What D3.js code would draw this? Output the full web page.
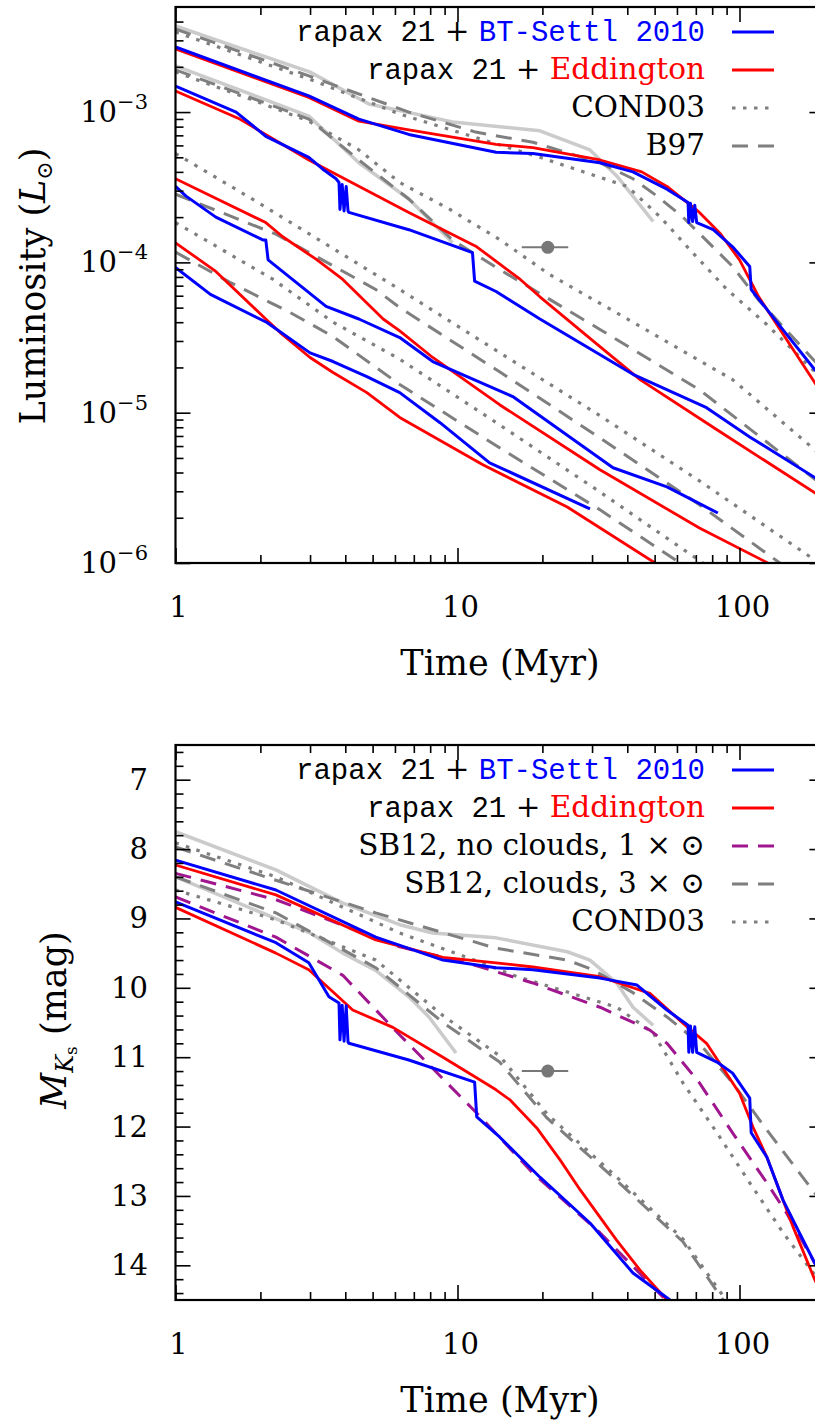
<!DOCTYPE html>
<html>
<head>
<meta charset="utf-8">
<script src="https://cdn.jsdelivr.net/npm/d3@7"></script>
<style>
  body { margin: 0; background: #fff; }
  svg { display: block; }
  text { white-space: pre; }
</style>
</head>
<body>
<div id="graph"></div>
<script>
// ---- top panel: [time (Myr), luminosity (L_sun)] ----
const lumGrayA = [[1,3.74e-3],[2.99,1.85e-3],[4.85,1.13e-3],[9.6,8.6e-4],[19.6,7.5e-4],[29.5,5.6e-4],[36.7,3.76e-4],[49.4,1.87e-4]];
const lumGrayB = [[1,2.03e-3],[2.97,9.4e-4],[4.47,4.6e-4],[6.72,2.64e-4],[9.6,1.35e-4]];

const lumBlueA = [[1,2.71e-3],[2.97,1.28e-3],[4.47,8.98e-4],[6.72,7.1e-4],[13.7,5.4e-4],[18.5,5.3e-4],[32,4.6e-4],[41.9,4.0e-4],[55.3,3.07e-4],[65.7,2.5e-4],[66.1,1.84e-4],[67,2.47e-4],[68.2,1.87e-4],[69.4,2.4e-4],[70.5,1.84e-4],[80.7,1.65e-4],[94.5,1.27e-4],[108.7,9.4e-5],[110,6.6e-5],[142,3.6e-5],[185,1.93e-5],[200,1.63e-5]];
const lumBlueB = [[1,1.49e-3],[1.64,1.0e-3],[2.09,6.9e-4],[2.97,5.0e-4],[3.33,4.17e-4],[3.71,3.6e-4],[3.80,3.4e-4],[3.83,2.25e-4],[3.90,3.3e-4],[3.96,2.2e-4],[4.03,3.2e-4],[4.09,2.2e-4],[4.12,2.15e-4],[6.72,1.65e-4],[11.3,1.16e-4],[11.5,7.5e-5],[13.7,6.4e-5],[19.6,4.2e-5],[41.9,1.8e-5],[76.4,1.08e-5],[108.7,6.9e-6],[185,3.7e-6],[200,3.46e-6]];
const lumBlueC = [[1,3.2e-4],[1.09,2.76e-4],[1.39,2.0e-4],[2.04,1.41e-4],[2.09,1.41e-4],[2.13,1.04e-4],[3.42,5.1e-5],[4.47,4.2e-5],[6.24,3.16e-5],[8.17,2.19e-5],[15.7,1.28e-5],[35.6,4.3e-6],[55.3,3.21e-6],[83.8,2.15e-6]];
const lumBlueD = [[1,9.26e-5],[1.33,6.12e-5],[2.11,3.98e-5],[3.0,2.5e-5],[3.62,2.19e-5],[4.77,1.74e-5],[6.24,1.36e-5],[8.67,8.58e-6],[13.0,4.64e-6],[29.5,2.29e-6]];

const lumRedA = [[1,2.63e-3],[2.97,1.25e-3],[4.47,8.7e-4],[6.72,7.6e-4],[13.7,6.1e-4],[18.5,5.8e-4],[32,4.8e-4],[45,4.0e-4],[55.3,3.2e-4],[72.1,2.15e-4],[85.1,1.57e-4],[100,1.04e-4],[117,5.9e-5],[185,1.58e-5],[200,1.28e-5]];
const lumRedB = [[1,1.38e-3],[1.69,8.98e-4],[2.97,4.8e-4],[6.72,2.15e-4],[11.7,1.27e-4],[16.7,7.7e-5],[19.6,5.9e-5],[32,2.75e-5],[44.4,1.66e-5],[83.2,7.7e-6],[185,2.93e-6],[200,2.67e-6]];
const lumRedC = [[1,3.6e-4],[2.09,1.84e-4],[2.4,1.48e-4],[3.15,1.05e-4],[3.92,7.7e-5],[5.45,4.2e-5],[6.24,3.5e-5],[8.17,2.33e-5],[14.1,1.13e-5],[32,4.17e-6],[72.1,1.71e-6],[126,1.0e-6]];
const lumRedD = [[1,1.35e-4],[1.39,8.7e-5],[2.09,4.2e-5],[2.35,3.41e-5],[3.0,2.33e-5],[3.62,1.85e-5],[4.77,1.36e-5],[6.24,9.3e-6],[12.3,4.5e-6],[24.5,2.36e-6],[50.2,1.0e-6]];

const lumCondA = [[1,3.41e-3],[2.97,1.66e-3],[6.24,9.7e-4],[19.6,5.0e-4],[40,3.2e-4],[52.4,2.0e-4],[68.2,1.16e-4],[90.3,6.6e-5],[125,3.86e-5],[185,1.87e-5],[200,1.61e-5]];
const lumCondB = [[1,1.85e-3],[1.84,1.22e-3],[2.97,8.7e-4],[4.47,5.6e-4],[6.24,3.4e-4],[9.4,2.25e-4],[14.1,1.42e-4],[21.2,8.3e-5],[41.9,4.0e-5],[94.5,1.66e-5],[185,5.66e-6],[200,5.0e-6]];
const lumCondC = [[1,5.3e-4],[1.84,2.69e-4],[2.76,1.69e-4],[6.24,6.6e-5],[14.1,2.51e-5],[32,9.55e-6],[72.1,3.52e-6],[178,1.1e-6],[200,9.5e-7]];
const lumCondD = [[1,1.84e-4],[2.22,7.7e-5],[3.62,4.0e-5],[6.24,2.27e-5],[14.1,8.3e-6],[32,2.97e-6],[74.2,1.0e-6]];

const lumB97A = [[1,3.57e-3],[2.97,1.74e-3],[6.72,1.0e-3],[11.6,7.36e-4],[18.5,6.3e-4],[32,4.6e-4],[41.9,3.6e-4],[51,2.76e-4],[63,2.0e-4],[94.5,9.4e-5],[117,5.6e-5],[185,2.2e-5],[200,1.87e-5]];
const lumB97B = [[1,1.91e-3],[2.97,8.98e-4],[4.47,4.8e-4],[6.72,2.64e-4],[9.6,1.41e-4],[13.7,9.26e-5],[32,3.58e-5],[72.1,1.42e-5],[185,3.6e-6],[200,3.26e-6]];
const lumB97C = [[1,2.84e-4],[2.27,1.54e-4],[5.13,6.6e-5],[6.24,5.0e-5],[14.1,1.87e-5],[32,6.8e-6],[72.1,2.44e-6],[139,1.0e-6]];
const lumB97D = [[1,1.17e-4],[1.56,7.36e-5],[2.55,4.64e-5],[3.62,3.21e-5],[6.24,1.54e-5],[14.1,5.84e-6],[32,2.26e-6],[61.5,1.0e-6]];

// ---- bottom panel: [time (Myr), M_Ks (mag)] ----
const magGrayA = [[1,7.75],[2.27,8.30],[3.92,8.78],[6.24,9.09],[8.17,9.21],[13.7,9.28],[24.5,9.48],[29.5,9.60],[36.7,9.93],[41.9,10.28],[49.4,10.54]];
const magGrayB = [[1,8.40],[2.97,9.2],[3.92,9.5],[5.13,9.75],[6.72,10.13],[7.92,10.42],[9.88,10.94]];

const magBlueA = [[1,8.16],[2.27,8.59],[5.13,9.27],[8.88,9.60],[13.7,9.71],[18.5,9.74],[32,9.86],[43.3,9.96],[55.3,10.32],[65.7,10.54],[66.1,10.93],[67,10.55],[68.2,10.93],[69.4,10.56],[70.5,10.93],[83.2,11.07],[94.5,11.23],[108.7,11.59],[110,12.09],[125,12.44],[142.7,13.06],[163,13.53],[185,13.97],[200,14.21]];
const magBlueB = [[1,8.76],[2.27,9.35],[2.97,9.64],[3.5,10.13],[3.80,10.22],[3.83,10.75],[3.90,10.25],[3.96,10.77],[4.03,10.26],[4.09,10.78],[4.12,10.80],[6.72,11.04],[11.5,11.36],[11.7,11.86],[14.1,12.15],[19.6,12.73],[29.5,13.39],[41.9,14.11],[56.7,14.5]];

const magRedA = [[1,8.23],[2.27,8.66],[5.13,9.31],[8.88,9.56],[13.7,9.64],[18.5,9.70],[32,9.84],[48.1,10.08],[63,10.51],[76.4,10.80],[100,11.52],[111.7,12.01],[125,12.44],[155,13.45],[185,14.21],[200,14.5]];
const magRedB = [[1,8.84],[2.27,9.50],[2.97,9.74],[4.25,10.32],[5.9,10.57],[8.88,11.0],[11.6,11.29],[13.7,11.47],[15.4,11.62],[19.1,12.02],[23.1,12.48],[27.2,12.91],[36.7,13.64],[44.4,14.07],[55.3,14.5]];

const magSB12NoCloudA = [[1,8.35],[2.27,8.73],[6.24,9.41],[10.8,9.64],[18.5,9.93],[32,10.28],[48.1,10.61],[55.3,10.80],[72.1,11.37],[94.5,12.09],[125,12.81],[147,13.25],[185,13.97],[200,14.18]];
const magSB12NoCloudB = [[1,8.69],[2.27,9.27],[3.92,9.82],[6.24,10.68],[11.6,11.79],[18.5,12.67],[32,13.53],[53.6,14.46],[55.3,14.53]];

const magSB12CloudA = [[1,7.97],[2.27,8.45],[5.13,8.92],[13.7,9.43],[24.5,9.60],[30.2,9.74],[41.9,10.07],[55.3,10.42],[72.1,10.80],[94.5,11.37],[125,12.05],[185,12.96],[200,13.1]];
const magSB12CloudB = [[1,8.40],[2.27,8.92],[5.13,9.71],[8.88,10.50],[14.1,11.07],[20.8,11.88],[35.6,12.73],[63,13.66],[87.4,14.5]];

const magCondA = [[1,7.91],[2.27,8.40],[6.24,9.21],[10.8,9.56],[16.3,9.84],[27.9,10.13],[36.7,10.28],[49.4,10.65],[63,11.37],[83.2,12.09],[108.7,12.81],[142.7,13.53],[185,14.14],[200,14.28]];
const magCondB = [[1,8.59],[2.27,9.02],[5.13,9.60],[8.88,10.40],[14.1,10.98],[20.8,11.82],[35.6,12.68],[63,13.62],[89.5,14.5]];

// object measurement (age with error, luminosity, magnitude)
const objAge = 20.9, objAgeLo = 16.9, objAgeHi = 24.7;
const objLum = 1.26e-4;
const objMag = 11.2;

// ticks
const timeMajor = [1, 10, 100];
const timeMinor = [2,3,4,5,6,7,8,9,20,30,40,50,60,70,80,90,200];
const lumMajor = [1e-6, 1e-5, 1e-4, 1e-3];
const lumExp = ["−6", "−5", "−4", "−3"];
const lumMinor = [2e-6,3e-6,4e-6,5e-6,6e-6,7e-6,8e-6,9e-6,2e-5,3e-5,4e-5,5e-5,6e-5,7e-5,8e-5,9e-5,
                  2e-4,3e-4,4e-4,5e-4,6e-4,7e-4,8e-4,9e-4,2e-3,3e-3,4e-3];
const magMajor = [7, 8, 9, 10, 11, 12, 13, 14];
const magMinor = [6.6,6.8,7.2,7.4,7.6,7.8,8.2,8.4,8.6,8.8,9.2,9.4,9.6,9.8,10.2,10.4,10.6,10.8,
                  11.2,11.4,11.6,11.8,12.2,12.4,12.6,12.8,13.2,13.4,13.6,13.8,14.2,14.4];

// ---- drawing ----
const SERIF = "DejaVu Serif", MONO = "Liberation Mono";
const W = 815, H = 1421;
const left = 175.5, right = 824.4;

const svg = d3.select("#graph").append("svg")
  .attr("width", W).attr("height", H);

const x = d3.scaleLog().domain([1, 200]).range([left, right]);
const yLum = d3.scaleLog().domain([1e-6, 5e-3]).range([563, 7]);
const yMag = d3.scaleLinear().domain([6.5, 14.5]).range([745, 1300]);

const st = {
  blue:   {c: "#0000ff", w: 3},
  red:    {c: "#ff0000", w: 2.8},
  cond:   {c: "#7f7f7f", w: 3.2, d: "3.5,7.5"},
  dash:   {c: "#7f7f7f", w: 3, d: "16,10"},
  purple: {c: "#a0168f", w: 3, d: "16,10"},
  light:  {c: "#cbcbcb", w: 3.5}
};

function panel(id, yScale, series, legend, point) {
  const [top, bottom] = [yScale.range()[0], yScale.range()[1]].sort((a, b) => a - b);
  const g = svg.append("g");

  svg.append("clipPath").attr("id", id)
    .append("rect").attr("x", left).attr("y", top)
    .attr("width", right - left).attr("height", bottom - top);

  const plot = g.append("g").attr("clip-path", `url(#${id})`);
  const line = d3.line().x(d => x(d[0])).y(d => yScale(d[1]));

  series.forEach(s => {
    plot.append("path")
      .datum(s.data)
      .attr("d", line)
      .attr("fill", "none")
      .attr("stroke", s.style.c)
      .attr("stroke-width", s.style.w)
      .attr("stroke-dasharray", s.style.d || null)
      .attr("stroke-linejoin", "round");
  });

  // measured object
  const py = yScale(point);
  plot.append("line")
    .attr("x1", x(objAgeLo)).attr("x2", x(objAgeHi))
    .attr("y1", py).attr("y2", py)
    .attr("stroke", "#777").attr("stroke-width", 2);
  plot.append("circle")
    .attr("cx", x(objAge)).attr("cy", py).attr("r", 6.5)
    .attr("fill", "#777");

  // ticks (inward on all sides)
  const tk = (axis, tr) => g.append("g").attr("transform", tr).call(axis)
    .call(a => a.select(".domain").remove())
    .call(a => a.selectAll("line").attr("stroke", "#000").attr("stroke-width", 1.6));
  tk(d3.axisBottom(x).tickValues(timeMajor).tickSize(-15).tickFormat(""), `translate(0,${bottom})`);
  tk(d3.axisBottom(x).tickValues(timeMinor).tickSize(-8).tickFormat(""), `translate(0,${bottom})`);
  tk(d3.axisTop(x).tickValues(timeMajor).tickSize(-15).tickFormat(""), `translate(0,${top})`);
  tk(d3.axisTop(x).tickValues(timeMinor).tickSize(-8).tickFormat(""), `translate(0,${top})`);
  const yMaj = yScale === yLum ? lumMajor : magMajor;
  const yMin = yScale === yLum ? lumMinor : magMinor;
  tk(d3.axisLeft(yScale).tickValues(yMaj).tickSize(-15).tickFormat(""), `translate(${left},0)`);
  tk(d3.axisLeft(yScale).tickValues(yMin).tickSize(-8).tickFormat(""), `translate(${left},0)`);
  tk(d3.axisRight(yScale).tickValues(yMaj).tickSize(-15).tickFormat(""), `translate(${right},0)`);
  tk(d3.axisRight(yScale).tickValues(yMin).tickSize(-8).tickFormat(""), `translate(${right},0)`);

  g.append("rect")
    .attr("x", left).attr("y", top)
    .attr("width", right - left).attr("height", bottom - top)
    .attr("fill", "none").attr("stroke", "#000").attr("stroke-width", 2.2);

  // x tick labels
  g.selectAll(".xl").data(timeMajor).join("text")
    .attr("x", d => x(d) + 3).attr("y", bottom + 54)
    .attr("text-anchor", "middle")
    .attr("font-family", SERIF).attr("font-size", 29)
    .text(d => d);
  g.append("text")
    .attr("x", (left + right) / 2).attr("y", bottom + 112)
    .attr("text-anchor", "middle")
    .attr("font-family", SERIF).attr("font-size", 35)
    .text("Time (Myr)");

  // legend
  legend.forEach((row, i) => {
    const by = top + 34 + i * 38;
    const t = g.append("text").attr("x", 705).attr("y", by)
      .attr("text-anchor", "end").attr("font-size", 29.5).attr("font-family", SERIF);
    row.parts.forEach(p => {
      t.append("tspan")
        .attr("font-family", p.mono ? MONO : SERIF)
        .attr("font-size", p.mono ? 29 : 29.5)
        .attr("fill", p.color || "#000")
        .text(p.text);
    });
    g.append("line")
      .attr("x1", 732).attr("x2", 774).attr("y1", by - 9).attr("y2", by - 9)
      .attr("stroke", row.style.c).attr("stroke-width", row.style.w)
      .attr("stroke-dasharray", row.style.d || null);
  });
  return g;
}

const rapax = [{text: "rapax 21", mono: true}, {text: " + "}];

// top panel
const gTop = panel("clipTop", yLum, [
  {data: lumGrayA, style: st.light}, {data: lumGrayB, style: st.light},
  {data: lumCondA, style: st.cond}, {data: lumCondB, style: st.cond},
  {data: lumCondC, style: st.cond}, {data: lumCondD, style: st.cond},
  {data: lumB97A, style: st.dash}, {data: lumB97B, style: st.dash},
  {data: lumB97C, style: st.dash}, {data: lumB97D, style: st.dash},
  {data: lumRedA, style: st.red}, {data: lumRedB, style: st.red},
  {data: lumRedC, style: st.red}, {data: lumRedD, style: st.red},
  {data: lumBlueA, style: st.blue}, {data: lumBlueB, style: st.blue},
  {data: lumBlueC, style: st.blue}, {data: lumBlueD, style: st.blue}
], [
  {parts: [...rapax, {text: "BT-Settl 2010", mono: true, color: "#0000ff"}], style: st.blue},
  {parts: [...rapax, {text: "Eddington", color: "#ff0000"}], style: st.red},
  {parts: [{text: "COND03"}], style: st.cond},
  {parts: [{text: "B97"}], style: st.dash}
], objLum);

lumMajor.forEach((v, i) => {
  const t = gTop.append("text").attr("x", 148).attr("y", yLum(v) + 10)
    .attr("text-anchor", "end").attr("font-family", SERIF).attr("font-size", 29);
  t.append("tspan").text("10");
  t.append("tspan").attr("font-size", 21).attr("dy", -13).text(lumExp[i]);
});

const yl1 = gTop.append("text")
  .attr("transform", "translate(45,286) rotate(-90)")
  .attr("text-anchor", "middle")
  .attr("font-family", SERIF).attr("font-size", 35);
yl1.append("tspan").text("Luminosity (");
yl1.append("tspan").attr("font-style", "italic").text("L");
yl1.append("tspan").attr("font-size", 22).attr("dy", 7).text("⊙");
yl1.append("tspan").attr("dy", -7).text(")");

// bottom panel
const gBot = panel("clipBot", yMag, [
  {data: magGrayA, style: st.light}, {data: magGrayB, style: st.light},
  {data: magCondA, style: st.cond}, {data: magCondB, style: st.cond},
  {data: magSB12CloudA, style: st.dash}, {data: magSB12CloudB, style: st.dash},
  {data: magSB12NoCloudA, style: st.purple}, {data: magSB12NoCloudB, style: st.purple},
  {data: magRedA, style: st.red}, {data: magRedB, style: st.red},
  {data: magBlueA, style: st.blue}, {data: magBlueB, style: st.blue}
], [
  {parts: [...rapax, {text: "BT-Settl 2010", mono: true, color: "#0000ff"}], style: st.blue},
  {parts: [...rapax, {text: "Eddington", color: "#ff0000"}], style: st.red},
  {parts: [{text: "SB12, no clouds, 1 × ⊙"}], style: st.purple},
  {parts: [{text: "SB12, clouds, 3 × ⊙"}], style: st.dash},
  {parts: [{text: "COND03"}], style: st.cond}
], objMag);

magMajor.forEach(v => {
  gBot.append("text").attr("x", 148).attr("y", yMag(v) + 10)
    .attr("text-anchor", "end").attr("font-family", SERIF).attr("font-size", 29)
    .text(v);
});

const yl2 = gBot.append("text")
  .attr("transform", "translate(66,1020) rotate(-90)")
  .attr("text-anchor", "middle")
  .attr("font-family", SERIF).attr("font-size", 35);
yl2.append("tspan").attr("font-style", "italic").text("M");
yl2.append("tspan").attr("font-style", "italic").attr("font-size", 24).attr("dy", 7).text("K");
yl2.append("tspan").attr("font-size", 17).attr("dy", 4).text("s");
yl2.append("tspan").attr("dy", -11).text(" (mag)");
</script>
</body>
</html>
